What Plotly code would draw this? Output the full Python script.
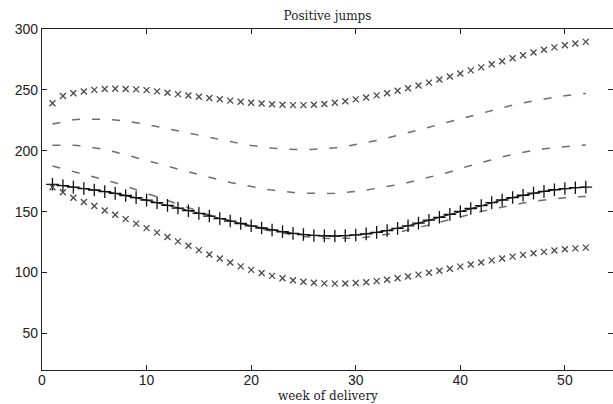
import plotly.graph_objects as go

weeks = list(range(1, 53))

upper_x = [239, 245, 247.2, 248.7, 250, 250.7, 251, 250.8, 250.4, 249.8,
           248.8, 247.6, 246.5, 245.4, 244.4, 243.3, 242.3, 241.2, 240.3, 239.4,
           238.8, 238.2, 237.8, 237.5, 237.5, 237.8, 238.4, 239.4, 240.7, 242.2,
           243.8, 245.5, 247.3, 249.3, 251.4, 253.6, 256, 258.5, 261, 263.5,
           266, 268.5, 271, 273.5, 276, 278.4, 280.7, 282.9, 284.9, 286.6,
           288.1, 289.4]

dash_upper = [222, 224, 225.5, 226, 226, 225.8, 225.3, 224.4, 223.1, 221.6,
              219.8, 218, 216.1, 214.2, 212.4, 210.6, 209, 207.3, 205.8, 204.4,
              203.2, 202.2, 201.5, 201.1, 201, 201.2, 201.7, 202.5, 203.6, 205,
              206.6, 208.4, 210.4, 212.5, 214.7, 217, 219.3, 221.7, 224, 226.4,
              228.8, 231.2, 233.4, 235.5, 237.5, 239.3, 241, 242.6, 244, 245.2,
              246.2, 247]

dash_mid = [204.5, 204.8, 204.6, 203.8, 202.6, 201, 199, 196.8, 194.5, 192.2,
            189.8, 187.4, 185, 182.6, 180.3, 178.1, 176, 174, 172.2, 170.5,
            169, 167.7, 166.6, 165.8, 165.2, 164.9, 164.9, 165.2, 165.8, 166.6,
            167.7, 169, 170.5, 172.2, 174, 176, 178, 180.2, 182.6, 185.5,
            188, 190, 192.5, 195, 197, 198.8, 200.3, 201.6, 202.7, 203.6,
            204.3, 204.8]

dash_low = [187.5, 185.2, 183, 180.8, 178.7, 176.4, 173.8, 171, 168, 165,
            162, 159, 156, 153, 150.2, 147.4, 144.8, 142.4, 140, 137.8,
            135.8, 134, 132.3, 130.9, 129.7, 128.8, 128.2, 127.9, 128, 128.4,
            129.1, 130.1, 131.4, 133, 134.8, 136.8, 139, 141.3, 143.6, 145.9,
            148.1, 150.2, 152.1, 153.9, 155.6, 157.1, 158.5, 159.7, 160.7, 161.5,
            162.1, 162.5]

plus_series = [172.5, 171.4, 170.2, 169, 167.8, 166.5, 165, 163.3, 161.5, 159.5,
               157.4, 155.2, 153, 150.8, 148.6, 146.4, 144.3, 142.3, 140.3, 138.4,
               136.6, 135, 133.5, 132.2, 131.2, 130.5, 130.1, 130, 130.3, 130.9,
               131.8, 133, 134.5, 136.3, 138.4, 140.6, 143, 145.4, 147.8, 150.2,
               152.6, 155, 157.4, 159.6, 161.6, 163.5, 165.2, 166.7, 168, 169,
               169.7, 170.2]

lower_x = [170, 165.9, 161.5, 158, 154.6, 151, 147.5, 143.9, 140.2, 136.5,
           132.8, 129.2, 125.6, 122, 118.4, 114.9, 111.5, 108.2, 105.1, 102.2,
           99.6, 97.3, 95.3, 93.7, 92.5, 91.6, 91.1, 90.9, 91, 91.4,
           92.1, 93, 94.1, 95.4, 96.8, 98.3, 99.9, 101.5, 103.2, 104.9,
           106.6, 108.3, 110, 111.6, 113.1, 114.5, 115.8, 117, 118.1, 119.1,
           119.9, 120.5]

x_ticks = [0, 10, 20, 30, 40, 50]
y_ticks = [50, 100, 150, 200, 250, 300]

xmark = dict(symbol="x-thin", size=6, line=dict(color="#4a4a4a", width=1.3), color="#4a4a4a")
dash_line = dict(color="#6e6e6e", width=1.5, dash="8px,12px")

fig = go.Figure()
fig.add_trace(go.Scatter(x=weeks, y=upper_x, mode="markers", marker=xmark))
fig.add_trace(go.Scatter(x=weeks, y=dash_upper, mode="lines", line=dash_line))
fig.add_trace(go.Scatter(x=weeks, y=dash_mid, mode="lines", line=dash_line))
fig.add_trace(go.Scatter(x=weeks, y=dash_low, mode="lines", line=dash_line))
fig.add_trace(go.Scatter(x=weeks, y=plus_series, mode="lines+markers",
                         line=dict(color="#111111", width=1.1),
                         marker=dict(symbol="cross-thin", size=9,
                                     line=dict(color="#111111", width=1.3))))
fig.add_trace(go.Scatter(x=weeks, y=lower_x, mode="markers", marker=xmark))

axis_common = dict(showline=True, linecolor="#222222", linewidth=1.2, mirror="ticks",
                   ticks="inside", ticklen=5, tickcolor="#222222", showgrid=False,
                   zeroline=False, automargin=False,
                   tickfont=dict(family="Liberation Sans", size=14, color="#222222"))

fig.update_layout(
    width=613, height=404,
    margin=dict(l=42, r=0, t=29, b=34),
    paper_bgcolor="white", plot_bgcolor="white",
    showlegend=False,
    title=dict(text="Positive jumps", x=0.5, xref="paper", y=0.962, yref="container",
               xanchor="center", yanchor="middle",
               font=dict(family="DejaVu Serif", size=12, color="#222222")),
    xaxis=dict(range=[0, 54.6], tickvals=x_ticks, ticklabelstandoff=-3, **axis_common),
    yaxis=dict(range=[20, 300], tickvals=y_ticks, **axis_common),
    annotations=[dict(text="week of delivery", x=0.5, xref="paper", y=-0.1, yref="paper",
                      xanchor="center", yanchor="bottom", showarrow=False, borderpad=0,
                      font=dict(family="DejaVu Serif", size=12, color="#222222"))],
)

fig.write_html("out.html")
